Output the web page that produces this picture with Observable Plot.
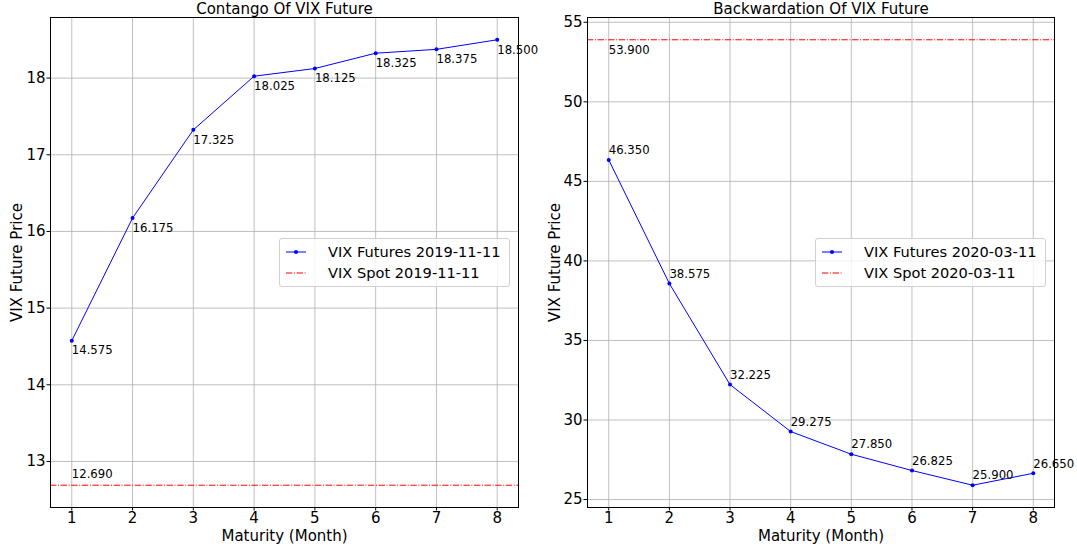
<!DOCTYPE html>
<html>
<head>
<meta charset="utf-8">
<script src="https://cdn.jsdelivr.net/npm/d3@7"></script>
<script src="https://cdn.jsdelivr.net/npm/@observablehq/plot@0.6"></script>
<style>
  html, body { margin: 0; padding: 0; background: #fff; }
  #wrap { display: flex; width: 1077px; height: 546px; font-family: "DejaVu Sans", sans-serif; }
  .panel { position: relative; }
  .legend { position: absolute; background: rgba(255,255,255,0.8); border: 1px solid #d0d0d0; border-radius: 3px;
            box-sizing: border-box; width: 231px; height: 49px; font-size: 14.6px; color: #000; }
  .legend .row { position: absolute; left: 0; height: 20px; display: flex; align-items: center; }
  .legend svg { position: absolute; left: 5px; }
  .legend span { position: absolute; left: 48px; white-space: nowrap; }
</style>
</head>
<body>
<div id="wrap"></div>
<script>
// ---- data ----
const months = [1, 2, 3, 4, 5, 6, 7, 8];
const contangoFutures = [14.575, 16.175, 17.325, 18.025, 18.125, 18.325, 18.375, 18.5];
const contangoSpot = 12.69;
const contangoDate = "2019-11-11";
const backwardFutures = [46.35, 38.575, 32.225, 29.275, 27.85, 26.825, 25.9, 26.65];
const backwardSpot = 53.9;
const backwardDate = "2020-03-11";
const titles = ["Contango Of VIX Future", "Backwardation Of VIX Future"];
const xLabel = "Maturity (Month)";
const yLabel = "VIX Future Price";
const xTicks = [1, 2, 3, 4, 5, 6, 7, 8];
const yTicksLeft = [13, 14, 15, 16, 17, 18];
const yTicksRight = [25, 30, 35, 40, 45, 50, 55];

const FONT = "DejaVu Sans";
const H = 546;

function padDomain(vals, frac = 0.05) {
  const lo = Math.min(...vals), hi = Math.max(...vals), r = hi - lo;
  return [lo - r * frac, hi + r * frac];
}

function panel({width, mL, mR, title, futures, spot, date, yTicks, labelBelow, spotAbove}) {
  const mT = 17, mB = 39;
  const data = months.map((m, i) => ({m, v: futures[i]}));
  const plot = Plot.plot({
    width, height: H,
    marginLeft: mL, marginRight: mR, marginTop: mT, marginBottom: mB,
    style: {fontFamily: FONT, fontSize: "15px", color: "#000", background: "#fff"},
    x: {domain: padDomain(months), ticks: xTicks, tickFormat: d => d, label: null},
    y: {domain: padDomain([...futures, spot]), ticks: yTicks, tickFormat: d => d, label: null},
    marks: [
      Plot.gridX(xTicks, {stroke: "#b0b0b0", strokeOpacity: 1, strokeWidth: 0.8}),
      Plot.gridY(yTicks, {stroke: "#b0b0b0", strokeOpacity: 1, strokeWidth: 0.8}),
      Plot.ruleY([spot], {stroke: "#ff0000", strokeWidth: 1, strokeDasharray: "6.4,1.6,1,1.6"}),
      Plot.line(data, {x: "m", y: "v", stroke: "#0000ff", strokeWidth: 1}),
      Plot.dot(data, {x: "m", y: "v", r: 2, fill: "#0000ff", stroke: "none"}),
      Plot.text(data, {x: "m", y: "v", text: d => d.v.toFixed(3), textAnchor: "start", lineAnchor: "middle",
        dy: labelBelow ? 10 : -9.5, dx: 0, fontSize: 11.7, fill: "#000"}),
      Plot.text([spot], {x: () => months[0], y: d => d, text: d => d.toFixed(3), textAnchor: "start",
        lineAnchor: "middle", dy: spotAbove ? -11 : 10, fontSize: 11.7, fill: "#000"}),
      Plot.frame({stroke: "#000", strokeWidth: 1}),
      Plot.axisX(xTicks, {tickSize: 3.5, tickPadding: 1, fontSize: 15, label: null, tickFormat: d => d}),
      Plot.axisY(yTicks, {tickSize: 3.5, tickPadding: 1.5, fontSize: 15, label: null, tickFormat: d => d}),
      Plot.text([title], {frameAnchor: "top", textAnchor: "middle", dy: -8, fontSize: 15, fill: "#000", lineAnchor: "middle"}),
      Plot.text([xLabel], {frameAnchor: "bottom", textAnchor: "middle", dy: 28.5, fontSize: 15, fill: "#000", lineAnchor: "middle"}),
      Plot.text([yLabel], {frameAnchor: "left", textAnchor: "middle", dx: -(mL - 17), rotate: -90, fontSize: 15, fill: "#000", lineAnchor: "middle"})
    ]
  });
  const div = document.createElement("div");
  div.className = "panel";
  div.style.width = width + "px";
  div.appendChild(plot);
  const lg = document.createElement("div");
  lg.className = "legend";
  lg.style.right = (mR + 8) + "px";
  lg.style.top = (mT + (H - mT - mB) / 2 - 24.5) + "px";
  lg.innerHTML = `
    <div class="row" style="top:3px">
      <svg width="22" height="20"><line x1="1" x2="21" y1="10" y2="10" stroke="#0000ff" stroke-width="1"/><circle cx="11" cy="10" r="2" fill="#0000ff"/></svg>
      <span>VIX Futures ${date}</span></div>
    <div class="row" style="top:24px">
      <svg width="22" height="20"><line x1="1" x2="21" y1="10" y2="10" stroke="#ff0000" stroke-width="1" stroke-dasharray="6.4,1.6,1,1.6"/></svg>
      <span>VIX Spot ${date}</span></div>`;
  div.appendChild(lg);
  return div;
}

const wrap = document.getElementById("wrap");
wrap.appendChild(panel({width: 538, mL: 50, mR: 20, title: titles[0], futures: contangoFutures, spot: contangoSpot,
  date: contangoDate, yTicks: yTicksLeft, labelBelow: true, spotAbove: true}));
wrap.appendChild(panel({width: 539, mL: 49, mR: 23, title: titles[1], futures: backwardFutures, spot: backwardSpot,
  date: backwardDate, yTicks: yTicksRight, labelBelow: false, spotAbove: false}));
</script>
</body>
</html>
